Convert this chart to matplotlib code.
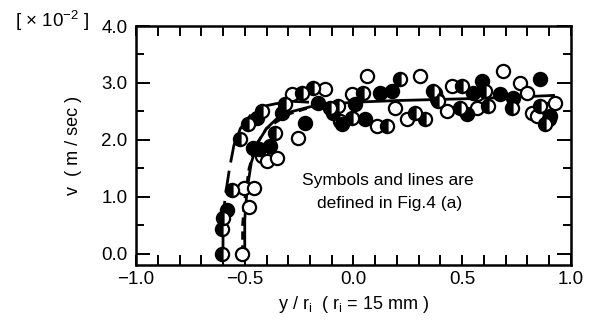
import numpy as np
import matplotlib.pyplot as plt
from matplotlib.ticker import MultipleLocator

plt.rcParams['font.family'] = ['Liberation Sans', 'DejaVu Sans']

# open circles
x_open = [-0.513, -0.503, -0.457, -0.480, -0.421, -0.398, -0.352, -0.283, -0.255,
          -0.131, -0.062, -0.007, 0.062, 0.108, 0.191, 0.246, 0.306, 0.384, 0.430,
          0.453, 0.568, 0.568, 0.687, 0.766, 0.798, 0.821, 0.844, 0.894, 0.926]
y_open = [0.00, 1.16, 1.16, 0.82, 1.72, 1.63, 1.68, 2.81, 2.04,
          2.89, 2.33, 2.81, 3.12, 2.25, 2.56, 2.37, 3.12, 2.72, 2.51,
          2.95, 2.56, 2.81, 3.21, 3.00, 2.82, 2.47, 2.42, 2.54, 2.65]

# filled circles
x_full = [-0.582, -0.462, -0.434, -0.443, -0.384, -0.329, -0.223, -0.163, -0.094,
          -0.053, 0.007, 0.053, 0.122, 0.177, 0.375, 0.522, 0.591, 0.549, 0.674,
          0.733, 0.857, 0.903, 0.90]
y_full = [0.77, 1.86, 1.84, 2.39, 1.89, 2.47, 2.30, 2.65, 2.47,
          2.28, 2.63, 2.37, 2.82, 2.86, 2.82, 2.46, 3.04, 2.82, 2.81,
          2.74, 3.07, 2.42, 2.36]

# half filled circles
x_half = [-0.605, -0.605, -0.600, -0.559, -0.522, -0.485, -0.421, -0.361, -0.315,
          -0.237, -0.186, -0.108, -0.071, -0.007, 0.044, 0.154, 0.214, 0.283,
          0.329, 0.366, 0.389, 0.490, 0.499, 0.605, 0.618, 0.729, 0.857, 0.880]
y_half = [0.00, 0.44, 0.63, 1.11, 2.02, 2.28, 2.51, 2.12, 2.63,
          2.82, 2.91, 2.56, 2.60, 2.39, 2.82, 2.25, 3.07, 2.47,
          2.37, 2.86, 2.68, 2.56, 2.95, 2.86, 2.60, 2.56, 2.60, 2.28]

# curves
x_solid = [-0.50, -0.50, -0.49, -0.47, -0.44, -0.40, -0.35, -0.30, -0.20, -0.10,
           0.0, 0.2, 0.4, 0.6, 0.8, 0.92]
y_solid = [0.0, 0.6, 1.1, 1.6, 1.95, 2.2, 2.38, 2.48, 2.58, 2.63,
           2.66, 2.69, 2.71, 2.73, 2.76, 2.78]
x_dash = [-0.51, -0.51, -0.50, -0.48, -0.45, -0.40, -0.30, -0.20, -0.10]
y_dash = [0.0, 0.5, 0.95, 1.5, 1.9, 2.2, 2.45, 2.57, 2.63]
x_ldash = [-0.60, -0.60, -0.59, -0.57, -0.55, -0.52, -0.47, -0.40, -0.30, -0.20]
y_ldash = [0.0, 0.6, 1.0, 1.5, 1.9, 2.2, 2.45, 2.6, 2.68, 2.66]

fig = plt.figure(figsize=(5.95, 3.21), dpi=100)
ax = fig.add_axes([0.2286, 0.1745, 0.731, 0.7445])

ax.plot(x_solid, y_solid, '-', color='black', lw=2.0, zorder=2)
ax.plot(x_dash, y_dash, color='black', lw=2.0, dashes=(3, 2), zorder=2)
ax.plot(x_ldash, y_ldash, color='black', lw=2.0, dashes=(8, 3), zorder=2)

ms = 9.5
mew = 1.6
ax.plot(x_open, y_open, 'o', ms=ms, mfc='white', mec='black', mew=mew, zorder=3)
ax.plot(x_full, y_full, 'o', ms=ms, mfc='black', mec='black', mew=mew, zorder=3)
ax.plot(x_half, y_half, 'o', ms=ms, fillstyle='left', mfc='black',
        markerfacecoloralt='white', mec='black', mew=mew, zorder=3)

ax.set_xlim(-1.0, 1.0)
ax.set_ylim(-0.2, 4.0)
ax.xaxis.set_major_locator(MultipleLocator(0.5))
ax.xaxis.set_minor_locator(MultipleLocator(0.1))
ax.yaxis.set_major_locator(MultipleLocator(1.0))
ax.yaxis.set_minor_locator(MultipleLocator(0.5))
ax.set_yticks([0, 1, 2, 3, 4])
ax.set_yticklabels(['0.0', '1.0', '2.0', '3.0', '4.0'])
ax.set_xticks([-1.0, -0.5, 0.0, 0.5, 1.0])
ax.set_xticklabels(['\u22121.0', '\u22120.5', '0.0', '0.5', '1.0'])

ax.tick_params(which='both', direction='in', top=True, right=True, width=1.4,
               labelsize=13.5, colors='black')
ax.tick_params(axis='x', which='both', length=7, pad=4)
ax.tick_params(axis='y', which='major', length=10, pad=6)
ax.tick_params(axis='y', which='minor', length=6)
for s in ax.spines.values():
    s.set_linewidth(1.8)

ax.set_xlabel('y / r$_\\mathregular{i}$  ( r$_\\mathregular{i}$ = 15 mm )', fontsize=13, labelpad=5)
ax.set_ylabel('v  ( m / sec )', fontsize=13, labelpad=14)
fig.text(0.025, 0.915, '[ \u00d7 10$^{\\mathregular{-2}}$ ]', fontsize=13.5, va='baseline')

ax.text(-0.235, 1.28, 'Symbols and lines are', fontsize=12.5, va='center', ha='left')
ax.text(0.499, 0.88, 'defined in Fig.4 (a)', fontsize=12.5, va='center', ha='right')

fig.savefig('out.png', dpi=100)
